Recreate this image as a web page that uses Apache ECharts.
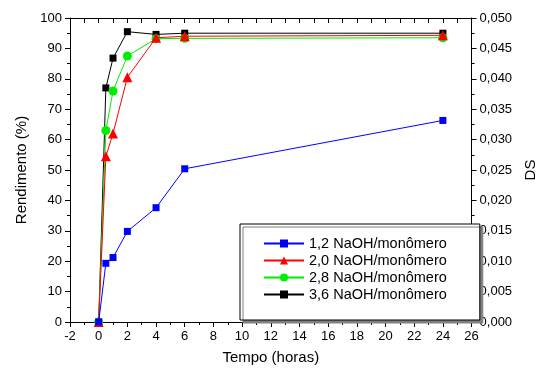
<!DOCTYPE html>
<html><head><meta charset="utf-8">
<script src="https://cdn.jsdelivr.net/npm/echarts@6/dist/echarts.min.js"></script>
<style>html,body{margin:0;padding:0;background:#fff}#c{width:546px;height:371px}</style>
</head><body><div id="c"></div>
<script>
const times = [0, 0.5, 1, 2, 4, 6, 24];
const names = ['1,2 NaOH/monômero', '2,0 NaOH/monômero', '2,8 NaOH/monômero', '3,6 NaOH/monômero'];
const s12 = [0, 19.3, 21.2, 29.8, 37.6, 50.4, 66.3];
const s20 = [0, 54.5, 62.0, 80.5, 93.5, 94.0, 94.3];
const s28 = [0, 63.0, 76.0, 87.5, 93.2, 93.3, 93.5];
const s36 = [0, 77.0, 86.8, 95.5, 94.6, 95.0, 95.0];
const colors = ['#0000ff', '#ff0000', '#00ee00', '#000000'];
const symbols = ['rect', 'triangle', 'circle', 'rect'];
const sizes = [7, 10, 9, 7];
const allData = [s12, s20, s28, s36];

const font = 'Liberation Sans, Arial, sans-serif';
const axisCommon = {
  axisLine: {show: true, onZero: false, lineStyle: {color: '#000', width: 1}},
  splitLine: {show: false},
  axisLabel: {color: '#000', fontFamily: font, fontSize: 13},
  axisTick: {show: true, length: 5, lineStyle: {color: '#000'}},
  minorTick: {show: true, splitNumber: 2, length: 3, lineStyle: {color: '#000'}},
  minorSplitLine: {show: false}
};

const chart = echarts.init(document.getElementById('c'));
chart.setOption({
  animation: false,
  grid: {left: 70, right: 61, top: 18, bottom: 49},
  xAxis: [
    Object.assign({}, axisCommon, {
      type: 'value', min: -2, max: 26, interval: 2, position: 'bottom',
      name: 'Tempo (horas)', nameLocation: 'middle', nameGap: 28,
      nameTextStyle: {color: '#000', fontFamily: font, fontSize: 15}
    }),
    Object.assign({}, axisCommon, {
      type: 'value', min: -2, max: 26, interval: 2, position: 'top',
      axisLabel: {show: false},
      axisTick: {show: true, inside: true, length: 5, lineStyle: {color: '#000'}},
      minorTick: {show: true, splitNumber: 2, length: 5, lineStyle: {color: '#000'}}
    })
  ],
  yAxis: [
    Object.assign({}, axisCommon, {
      type: 'value', min: 0, max: 100, interval: 10, position: 'left',
      name: 'Rendimento (%)', nameLocation: 'middle', nameGap: 40,
      nameTextStyle: {color: '#000', fontFamily: font, fontSize: 15}
    }),
    Object.assign({}, axisCommon, {
      type: 'value', min: 0, max: 0.05, interval: 0.005, position: 'right',
      name: 'DS', nameLocation: 'middle', nameGap: 45,
      nameTextStyle: {color: '#000', fontFamily: font, fontSize: 15},
      axisLabel: {color: '#000', fontFamily: font, fontSize: 13,
        formatter: v => v.toFixed(3).replace('.', ',')}
    })
  ],
  legend: {
    orient: 'vertical', left: 240, top: 224,
    padding: [12, 33, 18, 23],
    itemWidth: 40, itemHeight: 10, itemGap: 2,
    backgroundColor: '#fff', borderColor: '#000', borderWidth: 1,
    shadowColor: '#808080', shadowBlur: 0, shadowOffsetX: 3, shadowOffsetY: 3,
    textStyle: {color: '#000', fontFamily: font, fontSize: 14.5, padding: [0, 0, 0, 0]},
    data: names
  },
  series: allData.map((d, i) => ({
    name: names[i], type: 'line', xAxisIndex: 0, yAxisIndex: 0,
    data: times.map((t, j) => [t, d[j]]),
    symbol: symbols[i], symbolSize: sizes[i], showSymbol: true,
    lineStyle: {color: colors[i], width: 1},
    itemStyle: {color: colors[i]},
    z: 10 - i
  }))
});
</script></body></html>
